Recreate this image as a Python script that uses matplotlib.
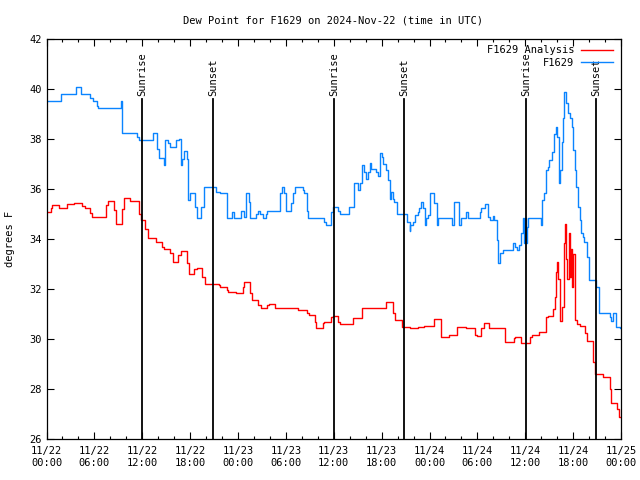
import matplotlib
matplotlib.use("Agg")
import matplotlib.pyplot as plt
from matplotlib.ticker import MultipleLocator

# hours since 11/22 00:00 UTC, dew point in F
blue_hours = [0.0, 1.8, 3.65, 4.3, 5.5, 5.8, 6.3, 6.5, 9.35, 9.45, 11.3, 11.6,
              13.4, 13.8, 14.1, 14.75, 14.9, 15.2, 15.5, 16.2, 16.6, 16.8,
              16.95, 17.25, 17.55, 17.7, 18.0, 18.6, 18.8, 19.4, 19.7, 21.2,
              21.8, 22.6, 23.3, 23.5, 24.4, 24.7, 25.0, 25.35, 25.5, 26.3,
              26.5, 26.8, 27.1, 27.45, 27.6, 29.3, 29.5, 29.8, 30.0, 30.6,
              30.85, 31.1, 32.1, 32.3, 32.6, 32.8, 34.8, 35.0, 35.7, 35.9,
              36.5, 36.8, 37.9, 38.5, 39.0, 39.25, 39.5, 39.8, 40.05, 40.25,
              40.5, 40.7, 41.3, 41.5, 41.8, 42.0, 42.2, 42.5, 42.75, 43.0,
              43.2, 43.4, 43.6, 43.9, 45.2, 45.5, 45.6, 45.9, 46.2, 46.5,
              46.7, 46.95, 47.15, 47.4, 47.6, 47.8, 48.1, 48.6, 48.9, 49.1,
              50.8, 51.1, 51.7, 52.0, 52.6, 52.8, 54.3, 54.5, 54.9, 55.3,
              55.55, 55.95, 56.1, 56.4, 56.6, 56.8, 57.2, 58.5, 58.75, 59.0,
              59.2, 59.45, 59.7, 59.85, 60.0, 60.1, 60.25, 60.4, 62.0, 62.15,
              62.4, 62.6, 62.8, 63.0, 63.3, 63.6, 63.8, 64.0, 64.2, 64.4,
              64.6, 64.7, 64.9, 65.1, 65.3, 65.6, 65.8, 66.0, 66.2, 66.4,
              66.6, 66.8, 67.0, 67.2, 67.4, 67.7, 68.0, 68.9, 69.2, 70.6,
              70.8, 71.0, 71.4, 71.9, 72.0]
blue_temps = [39.53, 39.8, 40.08, 39.8, 39.65, 39.53, 39.35, 39.24, 39.53, 38.24,
              38.1, 37.96, 38.24, 37.6, 37.24, 36.97, 37.96, 37.85, 37.68,
              37.96, 38.0, 36.97, 37.2, 37.53, 37.2, 35.57, 35.84, 35.3, 34.87,
              35.3, 36.08, 35.9, 35.84, 34.87, 35.1, 34.87, 35.13, 34.9, 35.84,
              35.5, 34.84, 35.0, 35.13, 35.0, 34.84, 35.0, 35.13, 35.84, 36.08,
              35.84, 35.13, 35.44, 35.84, 36.08, 35.97, 35.84, 35.13, 34.84,
              34.7, 34.57, 35.1, 35.28, 35.13, 35.0, 35.28, 36.26, 35.97, 36.26,
              36.97, 36.7, 36.4, 36.7, 37.06, 36.8, 36.7, 36.53, 37.46, 37.3,
              37.03, 36.77, 36.37, 35.6, 35.9, 35.6, 35.5, 35.0, 34.7, 34.34,
              34.57, 34.7, 34.97, 35.1, 35.24, 35.5, 35.24, 34.57, 34.84, 34.97,
              35.84, 35.44, 34.57, 34.87, 34.57, 35.5, 34.57, 34.87, 35.1, 34.87,
              35.1, 35.24, 35.4, 34.9, 34.77, 34.95, 34.77, 33.97, 33.04, 33.44,
              33.57, 33.84, 33.7, 33.57, 33.77, 34.24, 34.84, 33.84, 34.84,
              33.84, 34.5, 34.87, 34.57, 35.57, 35.84, 36.77, 36.9, 37.17, 37.5,
              38.23, 38.5, 38.1, 36.24, 36.77, 37.9, 38.84, 39.9, 39.44, 39.04,
              38.84, 38.5, 37.57, 36.77, 36.1, 35.3, 34.77, 34.24, 34.1, 33.9,
              33.3, 32.37, 32.1, 31.07, 30.9, 30.74, 31.04, 30.5, 30.44, 30.44]

red_hours = [0.0, 0.5, 0.73, 1.57, 2.6, 3.5, 4.5, 4.8, 5.5, 5.75, 7.5, 7.75,
             8.5, 8.75, 9.5, 9.7, 10.5, 11.6, 11.8, 12.4, 12.7, 13.7, 14.5,
             14.7, 15.5, 15.8, 16.5, 16.8, 17.6, 17.8, 18.5, 18.8, 19.5, 19.8,
             21.6, 21.8, 22.6, 22.8, 23.75, 24.6, 24.8, 25.5, 25.8, 26.55,
             26.9, 27.6, 27.85, 28.65, 31.5, 32.65, 32.85, 33.6, 33.8, 34.6,
             34.8, 35.65, 35.95, 36.5, 36.8, 38.45, 38.7, 39.5, 39.8, 40.5,
             42.6, 43.4, 43.7, 44.6, 44.85, 45.5, 46.5, 47.3, 48.6, 49.5, 50.5,
             51.5, 52.6, 53.7, 53.9, 54.5, 54.8, 55.5, 57.5, 57.8, 58.6, 58.75,
             59.5, 60.55, 60.85, 61.7, 62.6, 62.85, 63.5, 63.7, 63.85, 64.0,
             64.1, 64.3, 64.6, 64.85, 65.0, 65.1, 65.25, 65.45, 65.6, 65.75,
             65.9, 66.0, 66.2, 66.5, 66.8, 67.5, 67.8, 68.5, 68.7, 69.7, 70.6,
             70.8, 71.5, 71.8, 72.0]
red_temps = [35.11, 35.24, 35.36, 35.27, 35.4, 35.44, 35.35, 35.24, 35.07, 34.88,
             35.37, 35.53, 35.17, 34.6, 35.2, 35.64, 35.55, 35.0, 34.76, 34.4,
             34.04, 33.88, 33.71, 33.6, 33.44, 33.08, 33.37, 33.55, 33.05, 32.6,
             32.8, 32.84, 32.51, 32.21, 32.17, 32.08, 31.97, 31.88, 31.84, 32.1,
             32.28, 31.84, 31.57, 31.37, 31.24, 31.37, 31.41, 31.24, 31.17,
             31.04, 30.97, 30.7, 30.44, 30.66, 30.7, 30.9, 30.93, 30.7, 30.61,
             30.84, 30.86, 31.24, 31.26, 31.24, 31.48, 31.04, 30.77, 30.5, 30.48,
             30.44, 30.48, 30.53, 30.8, 30.1, 30.17, 30.5, 30.44, 30.17, 30.15,
             30.44, 30.64, 30.44, 29.9, 29.88, 30.04, 30.08, 29.84, 30.1, 30.17,
             30.31, 30.91, 30.93, 31.2, 31.7, 32.7, 33.1, 32.4, 30.75, 31.3,
             33.84, 34.6, 33.2, 32.4, 34.27, 32.5, 33.6, 32.1, 33.4, 30.77, 30.6,
             30.55, 30.25, 29.95, 29.1, 28.6, 28.5, 28.0, 27.47, 27.2, 26.9, 26.9]

sun_hours = [12.0, 20.9, 36.07, 44.85, 60.13, 68.9]
sun_labels = ["Sunrise", "Sunset", "Sunrise", "Sunset", "Sunrise", "Sunset"]

x_ticks = list(range(0, 73, 6))
x_labels = ["11/22\n00:00", "11/22\n06:00", "11/22\n12:00", "11/22\n18:00",
            "11/23\n00:00", "11/23\n06:00", "11/23\n12:00", "11/23\n18:00",
            "11/24\n00:00", "11/24\n06:00", "11/24\n12:00", "11/24\n18:00",
            "11/25\n00:00"]

plt.rcParams["font.family"] = ["DejaVu Sans Mono"]
plt.rcParams["font.size"] = 7

fig = plt.figure(figsize=(6.4, 4.8), dpi=100)
ax = fig.add_axes([0.0727, 0.0848, 0.8976, 0.8333])

ax.plot(red_hours, red_temps, color="#ff0000", lw=1.0, drawstyle="steps-post",
        label="F1629 Analysis")
ax.plot(blue_hours, blue_temps, color="#0a84ff", lw=1.0, drawstyle="steps-post",
        label="F1629")

# sunrise / sunset markers
for h, lab in zip(sun_hours, sun_labels):
    ax.plot([h, h], [26, 39.6], color="black", lw=1.3)
    ax.text(h, 39.75, lab, rotation=90, ha="center", va="bottom", fontsize=7.5)

ax.set_xlim(0, 72)
ax.set_ylim(26, 42)
ax.set_xticks(x_ticks)
ax.set_xticklabels(x_labels)
ax.xaxis.set_minor_locator(MultipleLocator(2))
ax.set_yticks(range(26, 43, 2))
ax.tick_params(which="both", direction="in", top=True, right=True, labelsize=7.5)
ax.tick_params(which="major", length=5, width=0.8)
ax.tick_params(which="minor", length=2.5, width=0.8)
ax.tick_params(axis="x", pad=5)
ax.set_ylabel("degrees F", fontsize=7.5, labelpad=10)
for s in ax.spines.values():
    s.set_linewidth(0.9)

fig.text(0.52, 0.958, "Dew Point for F1629 on 2024-Nov-22 (time in UTC)",
         ha="center", va="center", fontsize=7.5)

ax.legend(loc="upper right", bbox_to_anchor=(0.993, 0.995), frameon=False,
          markerfirst=False, handlelength=3.1, handletextpad=0.6,
          labelspacing=0.2, borderaxespad=0.0, fontsize=7.5)

fig.savefig("out.png", dpi=100)
